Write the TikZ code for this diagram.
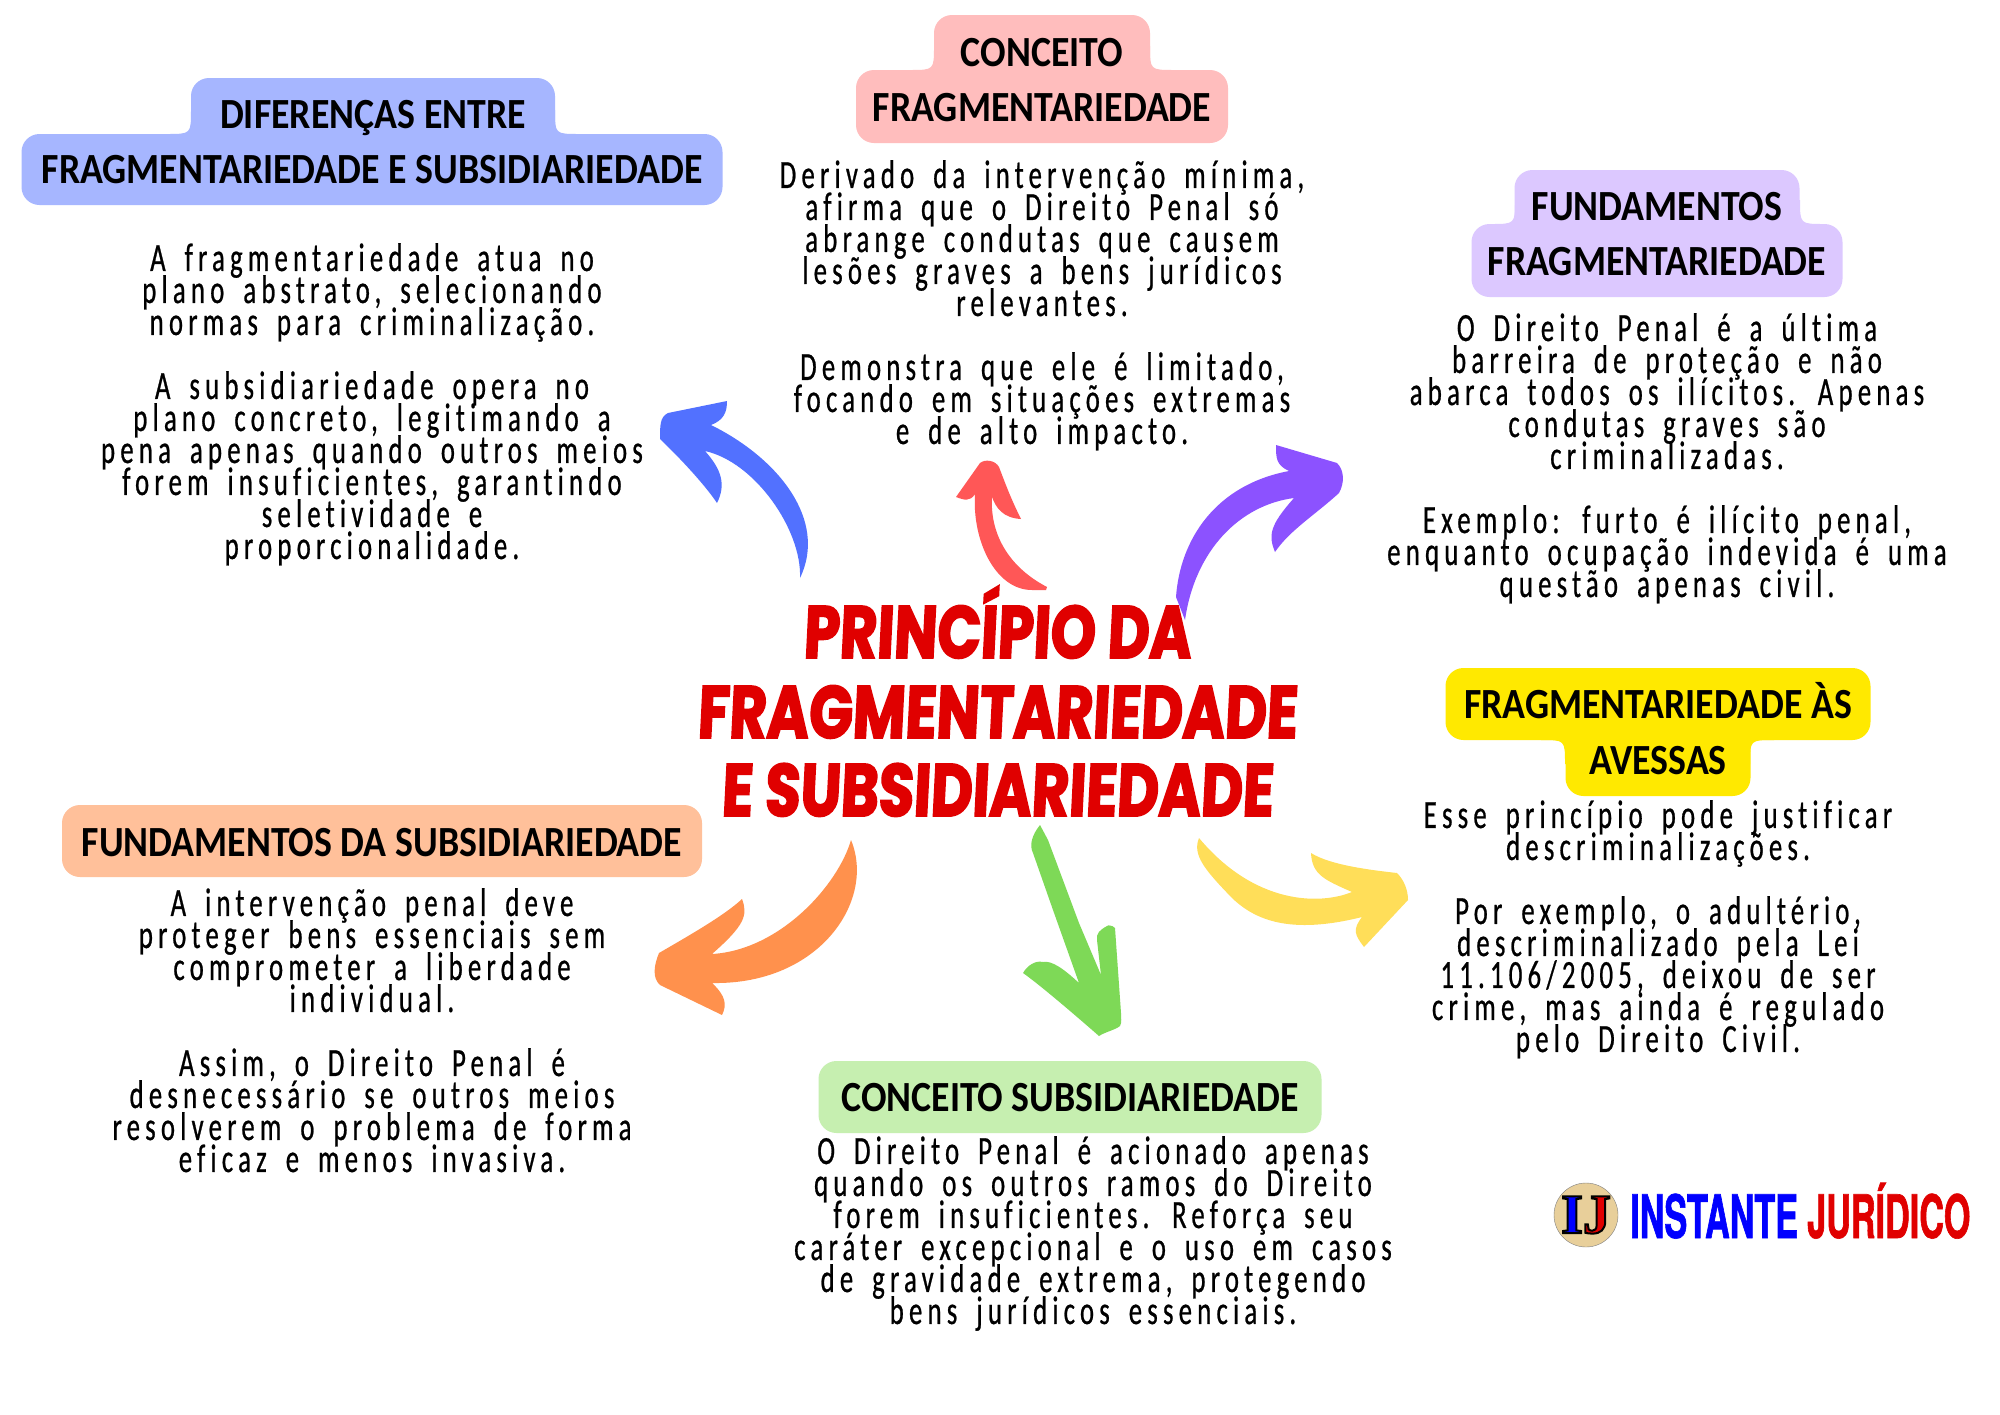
\documentclass[tikz,border=0pt]{standalone}
\usepackage{fontspec}
\usetikzlibrary{calc}

\newfontfamily\bodyfont[FakeStretch=0.67,LetterSpace=13,FakeBold=0.6,Ligatures=NoCommon]{Carlito}
\newfontfamily\headfont[FakeStretch=0.88,Ligatures=NoCommon,UprightFont=* Bold]{Carlito}
\newfontfamily\titlefont[FakeStretch=0.775,FakeSlant=0.05,FakeBold=2.5,UprightFont=* Bold]{Poppins}
\newfontfamily\logofont[FakeStretch=0.57,FakeBold=1,UprightFont=* Bold]{TeX Gyre Heros}
\newfontfamily\sealfont[UprightFont=* Bold]{Liberation Serif}

\definecolor{hdrBlue}{HTML}{A6B6FF}
\definecolor{hdrPink}{HTML}{FFBDBD}
\definecolor{hdrLilac}{HTML}{DCC8FF}
\definecolor{hdrYellow}{HTML}{FFE900}
\definecolor{hdrPeach}{HTML}{FFC09A}
\definecolor{hdrGreen}{HTML}{C6EFB0}
\definecolor{arrBlue}{HTML}{5271FF}
\definecolor{arrRed}{HTML}{FF5757}
\definecolor{arrPurple}{HTML}{8C52FF}
\definecolor{arrOrange}{HTML}{FF914D}
\definecolor{arrGreen}{HTML}{7ED957}
\definecolor{arrYellow}{HTML}{FFDE59}
\definecolor{titleRed}{HTML}{E00000}
\definecolor{sealTan}{HTML}{E8CF9A}

% concave corner between the two rows of a header
\newcommand{\notch}[4]{\fill[#4] ($(#1)+(#2*24,0)$) .. controls (#1) .. ($(#1)+(0,#3*24)$) -- ($(#1)+(-#2*24,#3*24)$) -- ($(#1)+(-#2*24,-#3*8)$) -- ($(#1)+(#2*24,-#3*8)$) -- cycle;}
\newcommand{\inked}{\special{pdf:code 2 Tr 2 w 0 0 0 RG}}
% tight lines and wide word gaps for the running text
\newcommand{\bodytype}{\bodyfont\fontsize{40}{32}\selectfont\lineskiplimit=-40pt\relax\fontdimen2\font=19pt\relax}

\begin{document}
\begin{tikzpicture}[
    x=1pt, y=-1pt,
    hdr/.style={anchor=base, rectangle, rounded corners=18pt, inner sep=0pt, text=black, font=\headfont\fontsize{43}{43}\selectfont},
    txt/.style={anchor=north, inner sep=0pt, align=center, text=black, font=\bodytype},
    title/.style={anchor=base, inner sep=0pt, text=titleRed, font=\titlefont\fontsize{74}{74}\selectfont},
    logo/.style={anchor=base west, inner sep=0pt, font=\logofont\fontsize{60}{60}\selectfont}
]
\useasboundingbox (0,0) rectangle (2000,1414);
\fill[white] (0,0) rectangle (2000,1414);

% headers: wide row, then corners, then narrow row
\node[hdr, fill=hdrBlue, minimum width=701pt, text height=49pt, text depth=22pt] (difBot) at (372,183) {FRAGMENTARIEDADE E SUBSIDIARIEDADE};
\coordinate (difL) at (191,134); \coordinate (difR) at (555,134);
\notch{difL}{-1}{-1}{hdrBlue} \notch{difR}{1}{-1}{hdrBlue}
\node[hdr, fill=hdrBlue, minimum width=364pt, text height=50pt, text depth=14pt] (difTop) at (373,128) {DIFERENÇAS ENTRE};

\node[hdr, fill=hdrPink, minimum width=372pt, text height=51pt, text depth=22pt] (cfBot) at (1042,121) {FRAGMENTARIEDADE};
\coordinate (cfL) at (934,70); \coordinate (cfR) at (1150,70);
\notch{cfL}{-1}{-1}{hdrPink} \notch{cfR}{1}{-1}{hdrPink}
\node[hdr, fill=hdrPink, minimum width=216pt, text height=51pt, text depth=12pt] (cfTop) at (1042,66) {CONCEITO};

\node[hdr, fill=hdrLilac, minimum width=371pt, text height=51pt, text depth=22pt] (ffBot) at (1657,275) {FRAGMENTARIEDADE};
\coordinate (ffL) at (1515,224); \coordinate (ffR) at (1800,224);
\notch{ffL}{-1}{-1}{hdrLilac} \notch{ffR}{1}{-1}{hdrLilac}
\node[hdr, fill=hdrLilac, minimum width=285pt, text height=50pt, text depth=12pt] (ffTop) at (1657,220) {FUNDAMENTOS};

\node[hdr, fill=hdrYellow, minimum width=425pt, text height=50pt, text depth=22pt] (faTop) at (1658,718) {FRAGMENTARIEDADE ÀS};
\coordinate (faL) at (1565,740); \coordinate (faR) at (1750,740);
\notch{faL}{-1}{1}{hdrYellow} \notch{faR}{1}{1}{hdrYellow}
\node[hdr, fill=hdrYellow, minimum width=185pt, text height=42pt, text depth=22pt] (faBot) at (1658,774) {AVESSAS};

\node[hdr, fill=hdrPeach, minimum width=640pt, text height=51pt, text depth=21pt] (fs) at (382,856) {FUNDAMENTOS DA SUBSIDIARIEDADE};
\node[hdr, fill=hdrGreen, minimum width=503pt, text height=50pt, text depth=22pt] (cs) at (1070,1111) {CONCEITO SUBSIDIARIEDADE};

% text blocks
\node[txt] (difTxt) at (372,243) {A fragmentariedade atua no\\ plano abstrato, selecionando\\ normas para criminalização.\\[32pt] A subsidiariedade opera no\\ plano concreto, legitimando a\\ pena apenas quando outros meios\\ forem insuficientes, garantindo\\ seletividade e\\ proporcionalidade.};
\node[txt] (cfTxt) at (1042,160) {Derivado da intervenção mínima,\\ afirma que o Direito Penal só\\ abrange condutas que causem\\ lesões graves a bens jurídicos\\ relevantes.\\[32pt] Demonstra que ele é limitado,\\ focando em situações extremas\\ e de alto impacto.};
\node[txt] (ffTxt) at (1667,313) {O Direito Penal é a última\\ barreira de proteção e não\\ abarca todos os ilícitos. Apenas\\ condutas graves são\\ criminalizadas.\\[32pt] Exemplo: furto é ilícito penal,\\ enquanto ocupação indevida é uma\\ questão apenas civil.};
\node[txt] (faTxt) at (1658,800) {Esse princípio pode justificar\\ descriminalizações.\\[32pt] Por exemplo, o adultério,\\ descriminalizado pela Lei\\ 11.106/2005, deixou de ser\\ crime, mas ainda é regulado\\ pelo Direito Civil.};
\node[txt] (fsTxt) at (372,888) {A intervenção penal deve\\ proteger bens essenciais sem\\ comprometer a liberdade\\ individual.\\[32pt] Assim, o Direito Penal é\\ desnecessário se outros meios\\ resolverem o problema de forma\\ eficaz e menos invasiva.};
\node[txt] (csTxt) at (1093,1136) {O Direito Penal é acionado apenas\\ quando os outros ramos do Direito\\ forem insuficientes. Reforça seu\\ caráter excepcional e o uso em casos\\ de gravidade extrema, protegendo\\ bens jurídicos essenciais.};

% central title
\node[title] (ttlA) at (997,658) {PRINCÍPIO DA};
\node[title] (ttlB) at (997,738) {FRAGMENTARIEDADE};
\node[title] (ttlC) at (997,816) {E SUBSIDIARIEDADE};

% brush arrows around the title
\fill[arrBlue] (800,578) .. controls (828,520) and (778,458) .. (711,425) .. controls (724,420) and (727,412) .. (727,401) -- (668,413) .. controls (660,417) and (660,425) .. (660,439) .. controls (680,458) and (705,485) .. (717,503) .. controls (726,485) and (722,470) .. (705,451) .. controls (755,462) and (802,530) .. (800,578) -- cycle;
\fill[arrRed] (1047,587) .. controls (1005,565) and (990,530) .. (992,497) .. controls (996,508) and (1003,518) .. (1021,519) .. controls (1010,497) and (1004,480) .. (999,467) .. controls (995,460) and (985,459) .. (980,463) -- (956,497) .. controls (964,500) and (970,502) .. (975,494) .. controls (972,540) and (995,590) .. (1032,590) -- (1046,590) -- cycle;
\fill[arrPurple] (1185,620) -- (1176,597) .. controls (1180,540) and (1215,485) .. (1289,471) .. controls (1276,465) and (1276,458) .. (1276,445) -- (1337,463) .. controls (1344,470) and (1345,482) .. (1339,493) .. controls (1315,515) and (1290,530) .. (1275,552) .. controls (1268,535) and (1270,525) .. (1294,498) .. controls (1240,505) and (1195,550) .. (1185,620) -- cycle;
\fill[arrOrange] (851,840) .. controls (876,900) and (820,985) .. (712,983) .. controls (726,996) and (727,1005) .. (722,1015) -- (660,985) .. controls (652,978) and (654,965) .. (659,953) .. controls (690,935) and (725,915) .. (742,899) .. controls (748,915) and (745,925) .. (712,954) .. controls (780,950) and (838,885) .. (851,840) -- cycle;
\fill[arrGreen] (1040,825) .. controls (1032,835) and (1029,845) .. (1033,853) -- (1053,910) -- (1079,983) .. controls (1065,970) and (1052,960) .. (1043,962) .. controls (1035,960) and (1027,966) .. (1023,973) .. controls (1040,985) and (1075,1015) .. (1099,1036) .. controls (1105,1032) and (1115,1030) .. (1120,1026) .. controls (1122,1022) and (1121,1018) .. (1121,1013) -- (1115,928) .. controls (1112,925) and (1108,925) .. (1107,926) .. controls (1100,930) and (1096,933) .. (1097,940) -- (1101,975) -- (1079,923) -- (1048,840) -- cycle;
\fill[arrYellow] (1199,838) .. controls (1192,855) and (1205,870) .. (1232,898) .. controls (1255,920) and (1290,935) .. (1362,917) .. controls (1352,930) and (1355,935) .. (1364,947) -- (1408,900) .. controls (1408,890) and (1404,880) .. (1397,873) .. controls (1370,870) and (1330,865) .. (1311,853) .. controls (1312,875) and (1325,880) .. (1352,892) .. controls (1320,905) and (1255,905) .. (1199,838) -- cycle;

% logo
\node[circle, draw=gray, fill=sealTan, minimum size=64pt, inner sep=0pt, font=\sealfont\fontsize{56}{56}\selectfont] (seal) at (1586,1215) {{\color{blue}\inked I}{\color{titleRed}\inked J}\special{pdf:code 0 Tr}};
\node[logo, text=blue] (logoA) at (1630,1238) {INSTANTE};
\node[logo, text=titleRed] (logoB) at (1807,1238) {JURÍDICO};
\end{tikzpicture}
\end{document}
